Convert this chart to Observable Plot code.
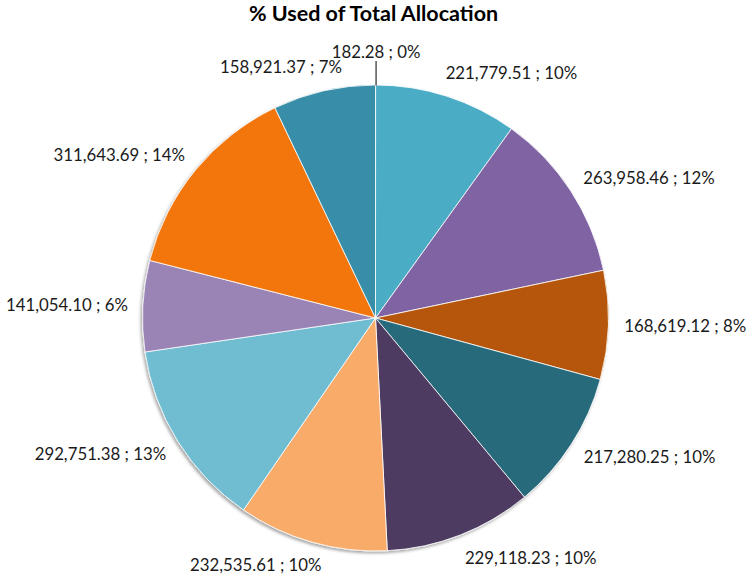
<!DOCTYPE html>
<html><head><meta charset="utf-8">
<script src="https://cdn.jsdelivr.net/npm/d3@7"></script>
<script src="https://cdn.jsdelivr.net/npm/@observablehq/plot@0.6"></script>
<style>
body{margin:0;background:#fff;}
#title{width:747px;height:36px;line-height:38px;text-align:center;font:bold 21.5px Lato, "Open Sans", sans-serif;color:#000;}
</style>
</head><body>
<div id="title">% Used of Total Allocation</div>
<div id="chart"></div>
<script>
// Slice values, clockwise from 12 o'clock
const values = [182.28, 221779.51, 263958.46, 168619.12, 217280.25, 229118.23, 232535.61, 292751.38, 141054.10, 311643.69, 158921.37];
const colors = ["#4F81BD", "#4BACC6", "#8064A2", "#B65708", "#276A7C", "#4D3B62", "#F9AB6B", "#6FBDD1", "#9A84B6", "#F3760C", "#378EA8"];

const W = 747, H = 542, PX = 233, CX = 375.5, CY = 282;
const total = d3.sum(values);
const fmt = d3.format(",.2f");
const arcs = d3.pie().sort(null).value(d => d)(values);

const labels = arcs.map((a, i) => {
  const t = (a.startAngle + a.endAngle) / 2, s = Math.sin(t), c = Math.cos(t);
  const text = `${fmt(values[i])} ; ${Math.round(100 * values[i] / total)}%`;
  const tiny = values[i] / total < 0.01;
  if (tiny) return {x: s * 1.14, y: c * 1.14, text, tiny, s, c};
  const w = text.length * 8.0 / PX, h = 8 / PX;
  const k = Math.min(1, Math.abs(s) * 3);
  return {x: s * 1.07 + Math.sign(s) * w / 2 * k, y: c * 1.07 + c * h, text, tiny, s, c};
});
const leaders = labels.filter(d => d.tiny).map(d => ({x1: d.s, y1: d.c, x2: d.s * 1.105, y2: d.c * 1.105}));

function pieMark(index, scales) {
  const cx = scales.x(0), cy = scales.y(0), r = scales.x(1) - scales.x(0);
  const g = d3.create("svg:g");
  const defs = g.append("defs");
  const f = defs.append("filter").attr("id", "pieShadow").attr("x", "-10%").attr("y", "-10%").attr("width", "120%").attr("height", "120%");
  f.append("feDropShadow").attr("dx", -1.5).attr("dy", 2).attr("stdDeviation", 1.6).attr("flood-color", "#000").attr("flood-opacity", 0.35);
  const arc = d3.arc().innerRadius(0).outerRadius(r);
  const pg = g.append("g").attr("transform", `translate(${cx},${cy})`).attr("filter", "url(#pieShadow)");
  pg.selectAll("path").data(arcs).join("path")
    .attr("d", arc)
    .attr("fill", (d, i) => colors[i])
    .attr("stroke", "#ffffff")
    .attr("stroke-opacity", 0.8)
    .attr("stroke-width", 1)
    .attr("stroke-linejoin", "round");
  return g.node();
}

const chart = Plot.plot({
  width: W, height: H, margin: 0,
  x: {domain: [-CX / PX, (W - CX) / PX], axis: null},
  y: {domain: [-(H - CY) / PX, CY / PX], axis: null},
  style: {background: "#fff", overflow: "visible"},
  marks: [
    pieMark,
    Plot.link(leaders, {x1: "x1", y1: "y1", x2: "x2", y2: "y2", stroke: "#000", strokeWidth: 1}),
    Plot.text(labels, {x: "x", y: "y", text: "text", fontSize: 16.8, fontFamily: "Lato, 'Open Sans', sans-serif", fill: "#1a1a1a"})
  ]
});
document.getElementById("chart").appendChild(chart);
</script>
</body></html>
